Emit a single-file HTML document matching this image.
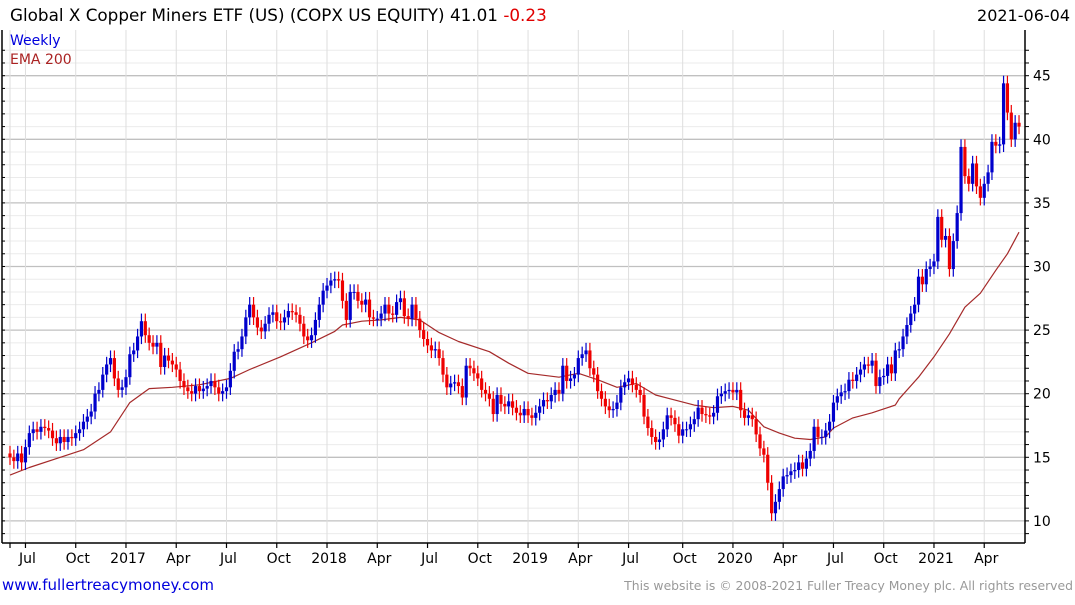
<!DOCTYPE html>
<html><head><meta charset="utf-8">
<style>
body{margin:0;background:#fff;font-family:"Liberation Sans",sans-serif;}
svg text{font-family:"DejaVu Sans","Liberation Sans",sans-serif;}
</style></head>
<body>
<svg id="chart" width="1075" height="600" viewBox="0 0 1075 600" xmlns="http://www.w3.org/2000/svg">
<text x="10" y="21" font-size="16.8" fill="#000">Global X Copper Miners ETF (US) (COPX US EQUITY) 41.01 <tspan fill="#e00000">-0.23</tspan></text>
<text x="1070" y="21" font-size="16" fill="#000" text-anchor="end">2021-06-04</text>
<g id="grid"></g>
<g id="ema"></g>
<g id="candles"></g>
<g id="axes"></g>
<text x="10" y="45" font-size="14" fill="#0000dd">Weekly</text>
<text x="10" y="64" font-size="14" fill="#aa2222">EMA 200</text>
<text x="2" y="590" font-size="15" fill="#0000dd">www.fullertreacymoney.com</text>
<text x="1073" y="590" font-size="12.4" fill="#999" text-anchor="end">This website is © 2008-2021 Fuller Treacy Money plc. All rights reserved</text>
</svg>
<script>
const closes=[15.0,14.7,15.3,14.6,15.8,16.9,17.2,17.0,17.4,17.3,
17.1,16.5,16.1,16.6,16.2,16.6,16.5,16.9,17.2,17.8,
18.2,18.6,20.0,20.3,21.5,22.3,22.8,21.2,20.3,20.5,
21.3,23.1,23.4,24.5,25.7,24.6,24.0,23.7,24.0,22.1,
23.0,22.6,22.3,21.9,21.0,20.5,20.2,20.0,20.6,20.2,
20.4,20.6,21.0,20.5,20.0,20.2,20.5,21.8,23.3,23.5,
24.5,26.0,27.0,26.0,25.2,24.9,25.5,26.2,26.4,25.7,
25.6,26.0,26.5,26.4,26.2,25.5,24.5,24.2,24.6,25.8,
27.0,28.1,28.5,28.9,29.0,28.9,27.3,25.8,28.0,28.0,
27.3,27.0,27.4,26.0,25.9,25.9,26.3,27.0,26.3,26.2,
27.2,27.5,26.1,25.9,27.0,25.9,25.0,24.3,23.8,23.4,
23.5,22.8,21.5,20.5,20.8,20.9,20.6,19.7,22.2,22.0,
21.6,21.2,20.3,20.0,19.6,18.4,19.9,19.2,19.0,19.4,
18.9,18.5,18.3,18.8,18.3,18.1,18.5,19.0,19.5,19.4,
19.9,20.3,20.0,22.2,21.0,21.2,21.5,22.8,23.1,23.4,
22.0,21.5,20.2,19.6,19.0,18.7,18.8,19.3,20.5,20.9,
21.2,20.7,20.3,19.9,18.2,17.3,16.6,16.2,16.4,17.2,
18.3,18.1,17.6,16.7,17.2,17.2,17.6,18.0,18.9,18.4,
18.3,18.2,18.5,19.8,20.0,20.2,20.3,20.1,20.3,18.7,
18.1,18.3,18.0,16.8,15.7,15.2,13.0,10.6,11.5,12.5,
13.5,13.6,13.9,14.0,14.6,14.1,14.9,15.5,17.4,16.6,
16.6,17.1,17.8,19.3,19.8,20.1,20.2,21.1,21.0,21.5,
21.9,22.3,22.2,22.6,20.6,21.3,21.4,22.3,21.6,23.4,
23.5,24.5,25.4,26.3,27.0,29.2,28.6,29.8,30.0,30.4,
33.9,32.1,32.4,29.8,32.0,34.2,39.4,37.1,36.5,38.1,
36.3,35.4,36.5,37.4,39.8,39.5,39.6,44.4,42.1,40.0,
41.3,41.0];
const firstOpen=15.3;
const emaWeeks=[0,5,13,19,26,31,36,42,49,57,62,70,78,84,86,91,96,101,106,111,116,124,129,134,142,147,152,157,162,167,172,177,182,187,191,195,199,203,207,211,213,218,223,225,229,230,235,239,243,247,251,255,258,261];
const emaVals=[13.6,14.2,15.0,15.6,17.0,19.3,20.4,20.5,20.7,21.2,21.9,22.9,24.0,24.9,25.4,25.7,25.8,26.0,25.8,24.8,24.1,23.3,22.4,21.6,21.3,21.6,21.1,20.5,20.8,19.9,19.5,19.1,18.9,19.0,18.7,17.4,16.9,16.5,16.4,16.6,17.3,18.1,18.5,18.7,19.1,19.6,21.3,22.9,24.7,26.8,27.9,29.7,31.0,32.7];
const yMajor=[10,15,20,25,30,35,40,45];
const xTickWeeks=[0,4,17,30,43,56,69,82,95,108,121,134,147,160,174,187,200,213,226,239,252];
const xTickLabels=["","Jul","Oct","2017","Apr","Jul","Oct","2018","Apr","Jul","Oct","2019","Apr","Jul","Oct","2020","Apr","Jul","Oct","2021","Apr"];

const L=2,R=1025,T=30,B=543;
const X=i=>10+i*3.866;
const Y=v=>139.3-(v-40)*12.72;
const NS="http://www.w3.org/2000/svg";
function mk(tag,parent,attrs){const e=document.createElementNS(NS,tag);for(const k in attrs)e.setAttribute(k,attrs[k]);parent.appendChild(e);return e;}
const grid=document.getElementById('grid');
for(let v=8;v<=47;v++){
  const y=Y(v);if(y<T||y>B)continue;
  const maj=v%5===0;
  const ln=mk('line',grid,{x1:L,x2:R,y1:y,y2:y,stroke:maj?'#c0c0c0':'#ebebeb','stroke-width':maj?1.3:1});
  
  
}
xTickWeeks.forEach((w,k)=>{
  const x=X(w);
  const ln=mk('line',grid,{x1:x,x2:x,y1:T,y2:B,stroke:'#dedede','stroke-width':1});
  
  
});
const pts=emaWeeks.map((w,k)=>X(w).toFixed(1)+','+Y(emaVals[k]).toFixed(1)).join(' ');
const pl=mk('polyline',document.getElementById('ema'),{points:pts,fill:'none',stroke:'#a52a2a','stroke-width':1.2,'stroke-linejoin':'round'});


const cg=document.getElementById('candles');
closes.forEach((c,i)=>{
  const o=i===0?firstOpen:closes[i-1];
  const up=c>=o;const col=up?'#0000cc':'#ee0000';
  const hi=Math.max(o,c)+0.6,lo=Math.min(o,c)-0.6;
  const x=X(i);
  const g=mk('g',cg,{});
  
  
  mk('line',g,{x1:x,x2:x,y1:Y(hi),y2:Y(lo),stroke:col,'stroke-width':1.2});
  const yt=Y(Math.max(o,c)),yb=Y(Math.min(o,c));
  mk('rect',g,{x:x-1.6,y:yt,width:3.2,height:Math.max(1,yb-yt),fill:col});
});
const ax=document.getElementById('axes');
const a1=mk('line',ax,{x1:L,x2:L,y1:T,y2:B,stroke:'#000','stroke-width':1.5});

const a2=mk('line',ax,{x1:R,x2:R,y1:T,y2:B,stroke:'#000','stroke-width':1.5});

const a3=mk('line',ax,{x1:L,x2:R,y1:B,y2:B,stroke:'#000','stroke-width':1.5});

for(let v=8;v<=47;v++){const y=Y(v);if(y<T||y>B)continue;
  mk('line',ax,{x1:L,x2:L+3,y1:y,y2:y,stroke:'#000'});
  mk('line',ax,{x1:R,x2:R+4,y1:y,y2:y,stroke:'#000'});}
yMajor.forEach(v=>{
  const t=mk('text',ax,{x:R+8,y:Y(v)+5,'font-size':14,fill:'#000'});
  
  
  t.textContent=v;
});
xTickWeeks.forEach((w,k)=>{
  const x=X(w);
  mk('line',ax,{x1:x,x2:x,y1:B,y2:B+5,stroke:'#000','stroke-width':1.2});
  const t=mk('text',ax,{x:x+2,y:B+20,'font-size':14,fill:'#000','text-anchor':'middle'});
  
  
  t.textContent=xTickLabels[k];
});
</script>
</body></html>
